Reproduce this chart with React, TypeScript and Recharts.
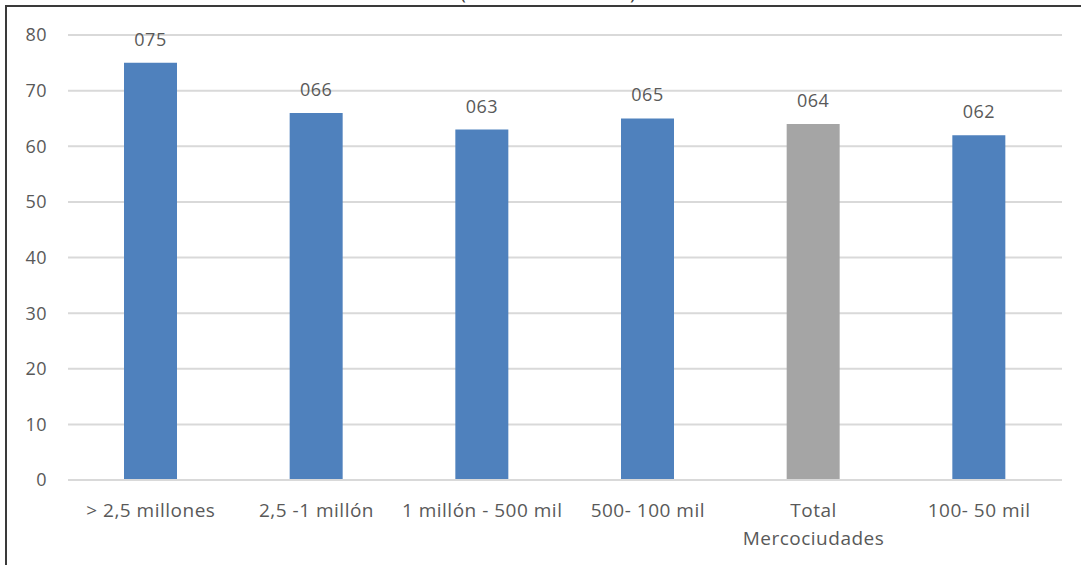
import React from 'react';
import { BarChart, Bar, XAxis, YAxis, CartesianGrid, LabelList, Cell } from 'recharts';

const categories = [
  '> 2,5 millones',
  '2,5 -1 millón',
  '1 millón - 500 mil',
  '500- 100 mil',
  'Total Mercociudades',
  '100- 50 mil',
];
const values = [75, 66, 63, 65, 64, 62];
const yTicks = [0, 10, 20, 30, 40, 50, 60, 70, 80];
const TOTAL_CATEGORY = 'Total Mercociudades';

const data = categories.map((name, i) => ({ name, value: values[i] }));

const FONT = '"Open Sans", sans-serif';
const TEXT = '#595959';

// category labels wrap onto two lines only for the long total label
const CategoryTick = (props: any) => {
  const { x, y, payload } = props;
  const lines = payload.value === TOTAL_CATEGORY ? ['Total', 'Mercociudades'] : [payload.value];
  return (
    <text x={x} y={y} textAnchor="middle" fill={TEXT} fontFamily={FONT} fontSize={19} letterSpacing={0.5}>
      {lines.map((line, i) => (
        <tspan key={i} x={x} dy={i === 0 ? '0.71em' : 28}>
          {line}
        </tspan>
      ))}
    </text>
  );
};

const App = () => {
  return (
    <div style={{ position: 'absolute', left: 0, top: 0, width: 1081, height: 565, overflow: 'hidden', background: '#fff' }}>
      <div style={{ position: 'absolute', left: 460, top: -18, fontFamily: FONT, fontSize: 20, lineHeight: '20px', color: '#404040' }}>
        <span style={{ position: 'absolute', left: 0 }}>(</span>
        <span style={{ position: 'absolute', left: 170 }}>)</span>
      </div>
      <div
        style={{
          position: 'absolute',
          left: 5,
          top: 5,
          width: 1100,
          height: 620,
          border: '2px solid #3a3a3a',
          boxSizing: 'border-box',
        }}
      />
      <div style={{ position: 'absolute', left: 0, top: 0 }}>
        <BarChart width={1081} height={600} data={data} margin={{ top: 35, right: 19, bottom: 60, left: 0 }}>
          <CartesianGrid vertical={false} stroke="#d9d9d9" strokeWidth={2} />
          <XAxis
            dataKey="name"
            axisLine={{ stroke: '#d9d9d9', strokeWidth: 2 }}
            tickLine={false}
            tickSize={0}
            tickMargin={24}
            height={60}
            interval={0}
            tick={<CategoryTick />}
          />
          <YAxis
            domain={[0, 80]}
            ticks={yTicks}
            width={68}
            axisLine={false}
            tickLine={false}
            tickSize={0}
            tickMargin={21}
            tick={{ fill: TEXT, fontFamily: FONT, fontSize: 18, letterSpacing: 0.5 }}
          />
          <Bar dataKey="value" barSize={53} isAnimationActive={false}>
            {data.map((d) => (
              <Cell key={d.name} fill={d.name === TOTAL_CATEGORY ? '#a5a5a5' : '#4f81bd'} />
            ))}
            <LabelList
              dataKey="value"
              position="top"
              offset={17}
              formatter={(v: any) => String(v).padStart(3, '0')}
              style={{ fill: TEXT, fontFamily: FONT, fontSize: 18, letterSpacing: 0.5 }}
            />
          </Bar>
        </BarChart>
      </div>
    </div>
  );
};

export default App;
